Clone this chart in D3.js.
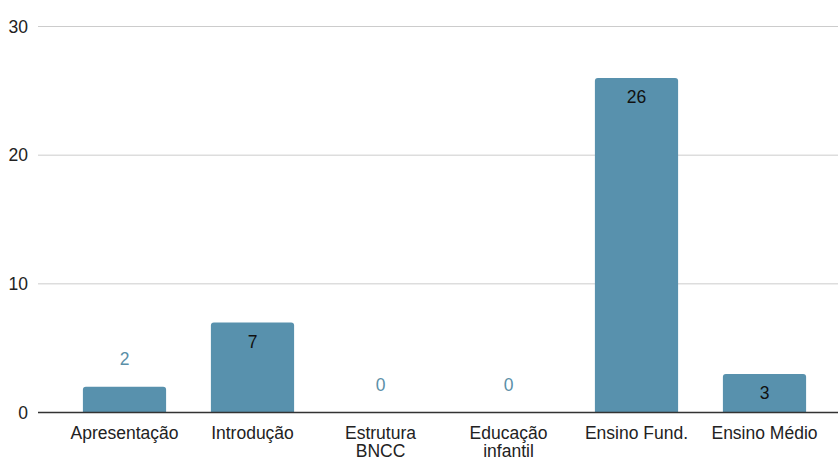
<!DOCTYPE html>
<html>
<head>
<meta charset="utf-8">
<style>
  body { margin: 0; background: #fff; }
  text { font-family: "Liberation Sans", Arial, sans-serif; }
</style>
</head>
<body>
<svg width="840" height="459"></svg>
<script src="https://cdn.jsdelivr.net/npm/d3@7"></script>
<script>
// data
const categories = [['Apresentação'], ['Introdução'], ['Estrutura', 'BNCC'], ['Educação', 'infantil'], ['Ensino Fund.'], ['Ensino Médio']];
const values = [2, 7, 0, 0, 26, 3];
const yTicks = [0, 10, 20, 30];

const svg = d3.select('svg');
const gridLeft = 38, gridRight = 838;
const barColor = '#5891ad';
const fs = 17.5;

const x = d3.scaleBand().domain(d3.range(categories.length))
  .range([60.5, 828.5]).paddingInner(0.35).paddingOuter(0.175);
const y = d3.scaleLinear().domain([0, 30]).range([412.5, 26.5]);

// gridlines
svg.append('g').selectAll('line')
  .data(yTicks.filter(t => t > 0)).enter()
  .append('line')
  .attr('x1', gridLeft).attr('x2', gridRight)
  .attr('y1', d => y(d)).attr('y2', d => y(d))
  .attr('stroke', '#cccccc').attr('stroke-width', 1);

// y labels
svg.append('g').selectAll('text')
  .data(yTicks).enter()
  .append('text')
  .attr('x', 28).attr('y', d => y(d))
  .attr('dy', '0.35em')
  .attr('text-anchor', 'end')
  .attr('font-size', fs)
  .attr('fill', '#222')
  .text(d => d);

// bars with rounded top corners
const r = 3;
function barPath(i) {
  const x0 = x(i), w = x.bandwidth(), y0 = y(values[i]), yb = y(0);
  if (values[i] === 0) return '';
  return `M${x0},${yb}V${y0 + r}Q${x0},${y0} ${x0 + r},${y0}H${x0 + w - r}Q${x0 + w},${y0} ${x0 + w},${y0 + r}V${yb}Z`;
}
svg.append('g').selectAll('path')
  .data(values).enter()
  .append('path')
  .attr('d', (d, i) => barPath(i))
  .attr('fill', barColor);

// baseline
svg.append('line')
  .attr('x1', gridLeft).attr('x2', gridRight)
  .attr('y1', y(0)).attr('y2', y(0))
  .attr('stroke', '#333').attr('stroke-width', 1.3);

// value labels: inside the bar if it's tall enough, else above it
svg.append('g').selectAll('text')
  .data(values).enter()
  .append('text')
  .attr('x', (d, i) => x(i) + x.bandwidth() / 2)
  .attr('y', d => d >= 3 ? y(d) + 19 : y(d) - 28)
  .attr('dy', '0.35em')
  .attr('text-anchor', 'middle')
  .attr('font-size', fs)
  .attr('fill', d => d >= 3 ? '#111' : '#5b8fa8')
  .text(d => d);

// category labels, two lines where the name is long
const cat = svg.append('g').selectAll('text')
  .data(categories).enter()
  .append('text')
  .attr('x', (d, i) => x(i) + x.bandwidth() / 2)
  .attr('y', 438.5)
  .attr('text-anchor', 'middle')
  .attr('font-size', fs)
  .attr('fill', '#222');
cat.selectAll('tspan')
  .data(d => d).enter()
  .append('tspan')
  .attr('x', function () { return d3.select(this.parentNode).attr('x'); })
  .attr('dy', (d, i) => i === 0 ? 0 : 18.5)
  .text(d => d);
</script>
</body>
</html>
